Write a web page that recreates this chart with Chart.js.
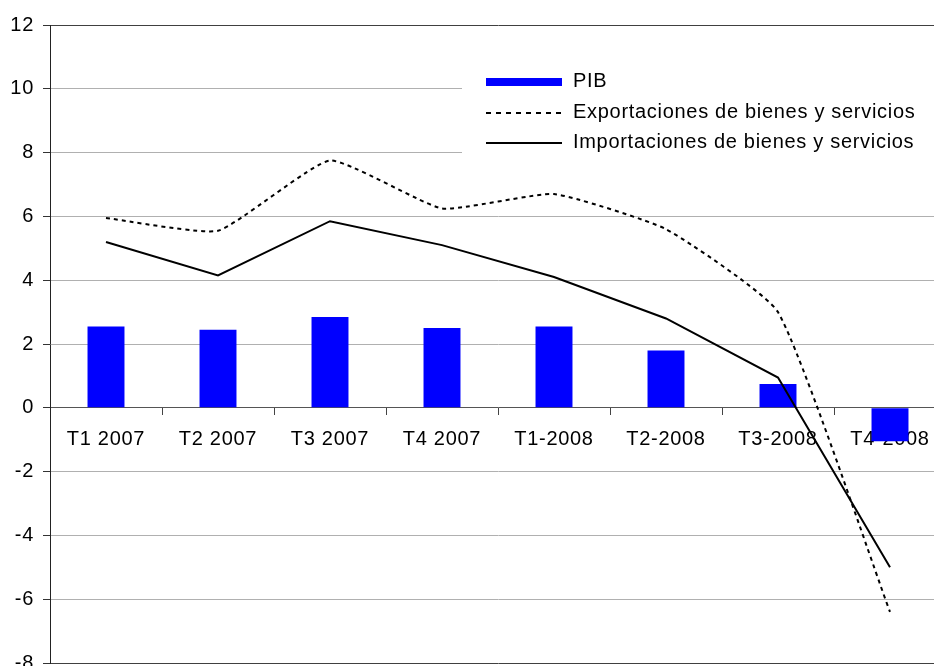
<!DOCTYPE html>
<html>
<head>
<meta charset="utf-8">
<script src="https://cdn.jsdelivr.net/npm/chart.js@4.4.1/dist/chart.umd.min.js"></script>
<style>
  html, body { margin: 0; padding: 0; background: #fff; overflow: hidden; }
  canvas { display: block; }
</style>
</head>
<body>
<canvas id="chart" width="946" height="666"></canvas>
<script>
const categories = ['T1 2007', 'T2 2007', 'T3 2007', 'T4 2007', 'T1-2008', 'T2-2008', 'T3-2008', 'T4-2008'];
const pib = [2.55, 2.45, 2.85, 2.5, 2.55, 1.8, 0.75, -1.05];
const exportaciones = [5.95, 5.55, 7.75, 6.25, 6.7, 5.6, 3.0, -6.4];
const importaciones = [5.2, 4.15, 5.85, 5.1, 4.1, 2.8, 0.95, -5.0];
const yTicks = [-8, -6, -4, -2, 0, 2, 4, 6, 8, 10, 12];

Chart.defaults.font.family = '"Liberation Sans", Arial, sans-serif';
Chart.defaults.font.size = 20;
Chart.defaults.color = '#000';

// letter spacing: the original text is a bit wider than Arial
const spacing = {
  id: 'spacing',
  beforeDraw(chart) { chart.ctx.letterSpacing = '0.7px'; },
};

// legend box sitting inside the plot, top right
const boxLegend = {
  id: 'boxLegend',
  afterDraw(chart) {
    const ctx = chart.ctx;
    const ds = chart.data.datasets;
    ctx.save();
    ctx.fillStyle = '#fff';
    ctx.fillRect(462, 62, 484, 100);
    const rows = [81, 112, 142];
    ds.forEach((d, i) => {
      const y = rows[i];
      if (d.type === 'bar') {
        ctx.fillStyle = d.backgroundColor;
        ctx.fillRect(486, y - 3, 76, 8);
      } else {
        ctx.strokeStyle = d.borderColor;
        ctx.lineWidth = 2;
        ctx.setLineDash(d.borderDash ? [5, 5] : []);
        ctx.beginPath();
        ctx.moveTo(486, y + 1);
        ctx.lineTo(562, y + 1);
        ctx.stroke();
        ctx.setLineDash([]);
      }
      ctx.fillStyle = '#000';
      ctx.font = '20px "Liberation Sans", Arial, sans-serif';
      ctx.textBaseline = 'middle';
      ctx.textAlign = 'left';
      ctx.fillText(d.label, 573, y);
    });
    ctx.restore();
  },
};

new Chart(document.getElementById('chart'), {
  data: {
    labels: categories,
    datasets: [
      {
        type: 'bar',
        label: 'PIB',
        data: pib,
        backgroundColor: '#0000ff',
        barPercentage: 0.33,
        categoryPercentage: 1,
        order: 3,
      },
      {
        type: 'line',
        label: 'Exportaciones de bienes y servicios',
        data: exportaciones,
        borderColor: '#000',
        borderWidth: 2,
        borderDash: [4, 4],
        pointRadius: 0,
        tension: 0.15,
        order: 1,
      },
      {
        type: 'line',
        label: 'Importaciones de bienes y servicios',
        data: importaciones,
        borderColor: '#000',
        borderWidth: 2,
        pointRadius: 0,
        tension: 0,
        order: 2,
      },
    ],
  },
  options: {
    responsive: false,
    animation: false,
    devicePixelRatio: 1,
    layout: { padding: { top: 25, bottom: 3, left: 0, right: 0 } },
    plugins: {
      legend: { display: false },
      tooltip: { enabled: false },
    },
    scales: {
      x: {
        position: { y: 0 },
        offset: true,
        grid: {
          offset: true,
          drawOnChartArea: false,
          drawTicks: true,
          tickLength: 7,
          tickColor: '#444',
        },
        border: { color: '#555', width: 1 },
        ticks: { padding: 13, autoSkip: false, maxRotation: 0 },
      },
      y: {
        min: -8,
        max: 12,
        afterBuildTicks: (scale) => { scale.ticks = yTicks.map(v => ({ value: v })); },
        afterFit: (scale) => {
          scale.width = 50;
          scale.paddingTop = 0;
          scale.paddingBottom = 0;
        },
        grid: {
          color: (c) => (c.tick && (c.tick.value === 12 || c.tick.value === -8)) ? '#404040' : '#b0b0b0',
          tickLength: 7,
          tickColor: '#333',
        },
        border: { color: '#222', width: 1 },
        ticks: { padding: 9 },
      },
    },
  },
  plugins: [spacing, boxLegend],
});
</script>
</body>
</html>
